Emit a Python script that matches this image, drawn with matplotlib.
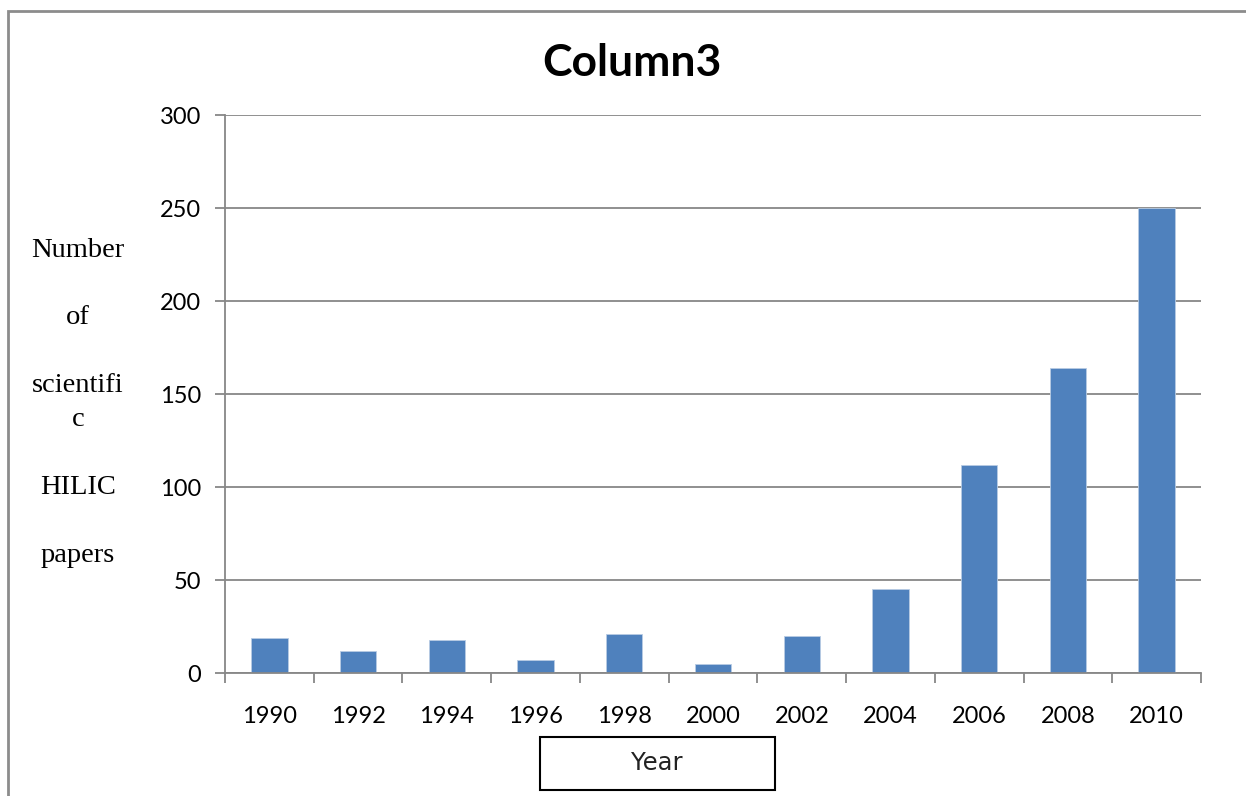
import matplotlib.pyplot as plt
from matplotlib.patches import Rectangle
import numpy as np

years = ['1990', '1992', '1994', '1996', '1998', '2000', '2002', '2004', '2006', '2008', '2010']
papers = [19, 12, 18, 7, 21, 5, 20, 45, 112, 164, 250]
y_ticks = [0, 50, 100, 150, 200, 250, 300]

bar_color = '#4F81BD'
grid_color = '#878787'

fig = plt.figure(figsize=(12.46, 7.96), dpi=100)
ax = fig.add_axes([0.1806, 0.1545, 0.7833, 0.701])

x = np.arange(len(years))
ax.bar(x, papers, width=0.41, color=bar_color, edgecolor='#b8cce4', linewidth=0.6, zorder=3)

ax.set_xlim(-0.5, len(years) - 0.5)
ax.set_ylim(0, 300)
ax.set_yticks(y_ticks)
ax.set_yticklabels([str(v) for v in y_ticks], family='Lato', fontsize=17)
ax.set_xticks(x)
ax.set_xticklabels(years, family='Lato', fontsize=17)
ax.set_xticks(np.arange(-0.5, len(years)), minor=True)
ax.tick_params(axis='x', which='major', length=0, pad=24)
ax.tick_params(axis='x', which='minor', length=7, width=1.3, color=grid_color, direction='out')
ax.tick_params(axis='y', length=7, width=1.3, color=grid_color, pad=10)
ax.yaxis.grid(True, color=grid_color, linewidth=1.3, zorder=0)
ax.set_axisbelow(True)

for side in ['top', 'right']:
    ax.spines[side].set_visible(False)
for side in ['left', 'bottom']:
    ax.spines[side].set_color(grid_color)
    ax.spines[side].set_linewidth(1.3)
    ax.spines[side].set_zorder(4)

fig.text(0.507, 0.921, 'Column3', ha='center', va='center', family='Lato',
         fontweight='bold', fontsize=32)

fig.text(0.0626, 0.494, 'Number\n\nof\n\nscientifi\nc\n\nHILIC\n\npapers',
         ha='center', va='center', multialignment='center',
         family='Liberation Serif', fontsize=20.5, linespacing=1.47)

# axis title box
fig.patches.append(Rectangle((540 / 1246, 1 - 790 / 796), 235 / 1246, 53 / 796,
                             transform=fig.transFigure, fill=False,
                             edgecolor='black', linewidth=1.5))
fig.text(657 / 1246, 1 - 763 / 796, 'Year', ha='center', va='center',
         family='DejaVu Sans', fontsize=17.5, color='#222222')

# outer chart border
fig.patches.append(Rectangle((8 / 1246, -0.1), 1.2, 1 - 11 / 796 + 0.1,
                             transform=fig.transFigure, fill=False,
                             edgecolor='#8c8c8c', linewidth=2))

fig.savefig('out.png', dpi=100)
